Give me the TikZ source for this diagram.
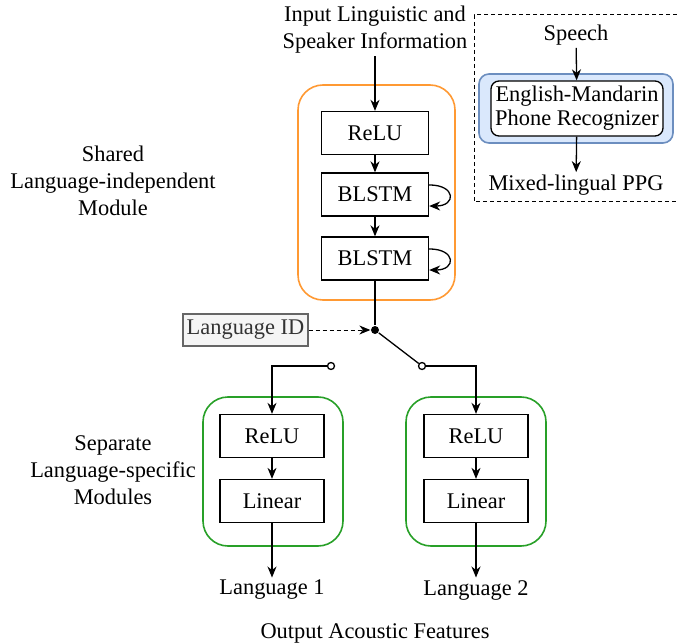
\documentclass[tikz,border=0pt]{standalone}
\usepackage{fontspec}
\setmainfont{Liberation Serif}
\usetikzlibrary{arrows.meta}
\definecolor{orangeline}{RGB}{255,153,51}
\definecolor{greenline}{RGB}{40,160,40}
\definecolor{blueline}{RGB}{108,142,191}
\definecolor{bluefill}{RGB}{218,232,252}
\definecolor{grayfill}{RGB}{245,245,245}
\definecolor{grayline}{RGB}{102,102,102}
\definecolor{graytext}{RGB}{51,51,51}

\begin{document}
\begin{tikzpicture}[x=1pt,y=-1pt,line width=1.3pt,font=\fontsize{22.4}{27}\selectfont,
    arr/.style={-{Stealth[length=11pt,width=9pt,inset=3.5pt]}},
    dashline/.style={line width=1pt,dash pattern=on 4pt off 3pt},
    layer/.style={draw,minimum width=107pt,minimum height=43pt,inner sep=0pt},
    smalllayer/.style={draw,minimum width=104pt,minimum height=43pt,inner sep=0pt},
    module/.style={draw,line width=1.6pt,rounded corners=25pt,inner sep=0pt},
    txt/.style={align=center,inner sep=2pt},
    switchend/.style={draw,fill=white,circle,inner sep=0pt,minimum size=7pt}]
    \useasboundingbox (0,0) rectangle (677,644);
    % shared part
    \node[module,draw=orangeline,minimum width=157pt,minimum height=215pt] (shared) at (376.5,192.5) {};
    \node[txt] (input) at (375,30) {Input Linguistic and\\Speaker Information};
    \node[layer] (srelu) at (375,133) {ReLU};
    \node[layer] (sb1) at (375,194.5) {BLSTM};
    \node[layer] (sb2) at (375,258.5) {BLSTM};
    \draw[arr](input)--(srelu);
    \draw[arr](srelu)--(sb1);
    \draw[arr](sb1)--(sb2);
    \draw[arr](sb1.10) to[out=0,in=0,looseness=3.3] (sb1.-12);
    \draw[arr](sb2.10) to[out=0,in=0,looseness=3.3] (sb2.-12);
    \node[txt] at (113,181) {Shared\\Language-independent\\Module};
    % switch
    \node[fill=black,circle,inner sep=0pt,minimum size=8pt] (sw) at (375,330) {};
    \node[draw=grayline,fill=grayfill,text=graytext,minimum width=125pt,minimum height=32pt,inner sep=0pt] (langid) at (245.5,330) {Language ID};
    \node[switchend] (pl) at (331,366) {};
    \node[switchend] (pr) at (422,366) {};
    \draw(sb2)--(sw);
    \draw[arr,dashline](langid)--(sw);
    \draw(sw)--(pr);
    % language-specific parts
    \node[module,draw=greenline,minimum width=140pt,minimum height=149pt] (lmod) at (273,471.5) {};
    \node[module,draw=greenline,minimum width=140pt,minimum height=149pt] (rmod) at (476,471.5) {};
    \node[smalllayer] (lrelu) at (272,436) {ReLU};
    \node[smalllayer] (llin) at (272,501) {Linear};
    \node[smalllayer] (rrelu) at (476,436) {ReLU};
    \node[smalllayer] (rlin) at (476,501) {Linear};
    \draw[arr](pl.west)-|(lrelu.north);
    \draw[arr](pr.east)-|(rrelu.north);
    \draw[arr](lrelu)--(llin);
    \draw[arr](rrelu)--(rlin);
    \node[txt] (lout) at (272,590) {Language 1};
    \node[txt] (rout) at (476,590) {Language 2};
    \draw[arr](llin)--(lout);
    \draw[arr](rlin)--(rout);
    \node[txt] at (113,470) {Separate\\Language-specific\\Modules};
    \node[txt] at (375,633) {Output Acoustic Features};
    % phone recognizer
    \draw[dashline](677,15)--(474,15)--(474,202)--(677,202);
    \node[txt] (speech) at (576,35) {Speech};
    \node[draw=blueline,fill=bluefill,line width=1.6pt,rounded corners=10pt,minimum width=194pt,minimum height=69pt] (recbg) at (576,108.5) {};
    \node[draw,fill=white,rounded corners=8pt,minimum width=172pt,minimum height=55pt,inner sep=0pt,align=center,font=\fontsize{22.4}{24}\selectfont] (rec) at (577,108.5) {English-Mandarin\\Phone Recognizer};
    \node[txt] (ppg) at (576,185) {Mixed-lingual PPG};
    \draw[arr](speech)--(rec);
    \draw[arr](rec)--(ppg);
\end{tikzpicture}
\end{document}
